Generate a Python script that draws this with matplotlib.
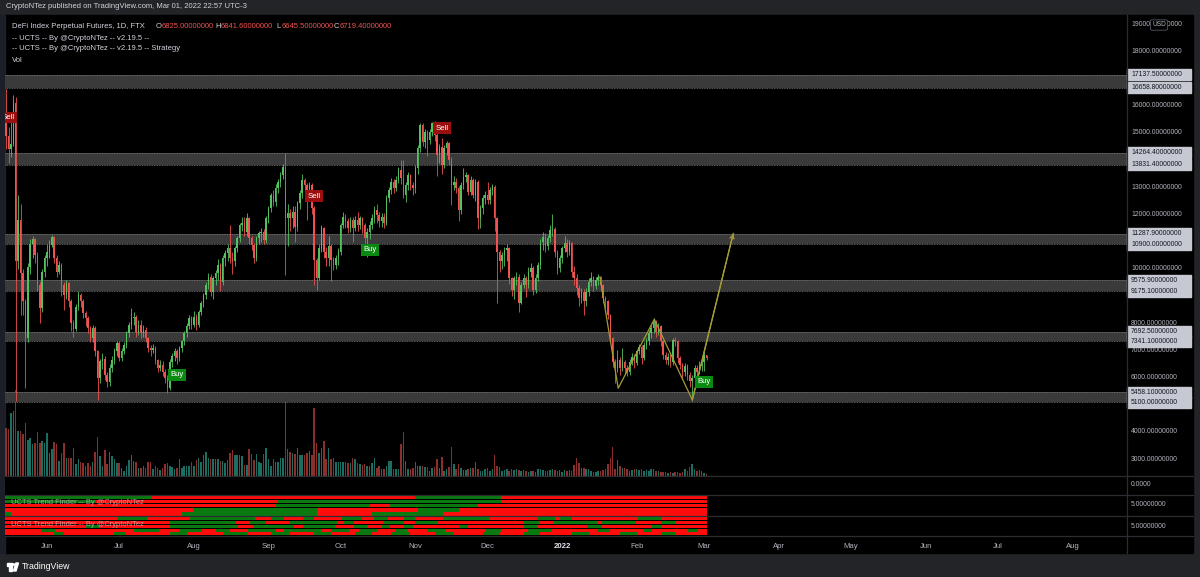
import matplotlib
matplotlib.use('Agg')
import matplotlib.pyplot as plt
import matplotlib.patches as mpatches
from matplotlib.lines import Line2D
from matplotlib.transforms import blended_transform_factory
import pandas as pd

plt.rcParams['font.family'] = ['Liberation Sans', 'DejaVu Sans']

# ---- data ----
start_date = '2021-05-15'
first_open = 15600

closes = [
    14900, 14400, 14600, 16100, 10300, 11800, 9830, 8800, 7450, 10080,
    10900, 11100, 10500, 9400, 8550, 9900, 10400, 10630, 10880, 11180,
    10390, 9900, 10140, 9400, 9040, 9470, 8800, 8000, 7800, 8610,
    9040, 8800, 8370, 8180, 7820, 7450, 7820, 6960, 5980, 6600,
    6700, 6100, 5850, 6340, 6650, 6960, 7270, 6710, 6960, 7200,
    7630, 7940, 8180, 8240, 7690, 7940, 7630, 7750, 7450, 7080,
    7020, 7080, 6650, 6340, 6470, 6220, 5980, 5610, 6590, 6780,
    6960, 6710, 7080, 7330, 7630, 7880, 8180, 7940, 8240, 7940,
    8430, 8730, 9040, 9410, 9710, 9160, 9650, 9840, 10140, 9530,
    10390, 10570, 10760, 10390, 10270, 10760, 11120, 11620, 11670, 11370,
    11860, 11120, 10880, 10390, 11120, 11310, 11370, 11060, 11860, 12220,
    12720, 12470, 12960, 13200, 13450, 13760, 11860, 12040, 11860, 12100,
    11550, 12410, 12780, 13270, 13080, 12840, 13080, 12220, 10330, 9650,
    10760, 11490, 10630, 10390, 10820, 10330, 10140, 10390, 10630, 11620,
    11920, 11740, 11490, 11800, 11490, 11800, 11610, 11860, 11610, 11120,
    11370, 11610, 11860, 12160, 11980, 11740, 11920, 11670, 12590, 12900,
    13200, 12960, 13270, 13630, 13330, 12720, 13080, 13450, 13080, 12960,
    13700, 14430, 15290, 14680, 15040, 14740, 15040, 15350, 14920, 14190,
    14490, 13820, 14430, 14610, 14000, 13080, 13200, 12960, 12160, 13080,
    13390, 13450, 12840, 13270, 12720, 13200, 11860, 12230, 12590, 12720,
    12530, 12900, 13020, 11860, 10630, 10270, 10510, 10700, 10760, 9650,
    9220, 9650, 9710, 8730, 9410, 9650, 9400, 9900, 10020, 9230,
    9650, 10140, 11000, 11180, 10820, 11120, 11430, 11470, 10630, 10020,
    10390, 10760, 10940, 10630, 10940, 9900, 9650, 9280, 8920, 9160,
    8800, 9160, 9530, 9650, 9350, 9590, 9710, 9410, 8920, 8800,
    8300, 7450, 6590, 6350, 6650, 6350, 6590, 6350, 6220, 6590,
    6770, 6530, 6960, 7140, 6710, 7200, 7330, 7630, 7820, 8040,
    7690, 7880, 7330, 6840, 6650, 6770, 6590, 7390, 7330, 6710,
    6470, 6220, 6410, 6100, 5860, 5980, 6350, 6220, 6410, 6590,
    6825, 6719.4,
]

highs = [
    16600, 15200, 15400, 16400, 16300, 12700, 12400, 10000, 8900, 10200,
    11100, 11200, 11150, 10600, 9500, 10000, 10500, 10900, 11050, 11250,
    11200, 10500, 10300, 10200, 9500, 9600, 9500, 8900, 8100, 8700,
    9200, 9100, 8900, 8450, 8250, 7900, 7950, 7900, 7000, 6700,
    6900, 6800, 6200, 6500, 6800, 7100, 7350, 7350, 7100, 7300,
    7700, 8050, 8550, 8400, 8300, 8100, 8100, 7950, 7850, 7500,
    7200, 7250, 7150, 6700, 6650, 6600, 6300, 6100, 6700, 6900,
    7100, 7050, 7150, 7400, 7700, 8000, 8300, 8250, 8450, 8350,
    8500, 8800, 9100, 9500, 9850, 9800, 9750, 9950, 10350, 10200,
    10500, 10700, 10900, 11600, 10600, 10850, 11200, 11700, 11900, 11900,
    12050, 11900, 11200, 10950, 11200, 11400, 11500, 11450, 11950, 12300,
    12800, 12900, 13100, 13300, 13550, 13850, 14250, 12400, 12200, 12300,
    12300, 12500, 12900, 13500, 13350, 13150, 13200, 13150, 12300, 10400,
    10900, 11600, 11550, 10800, 11200, 10900, 10450, 10500, 10750, 11700,
    12100, 12000, 11850, 11900, 11900, 11950, 12100, 11950, 11900, 11700,
    11500, 11750, 12000, 12300, 12400, 12100, 12050, 12050, 12700, 13000,
    13350, 13300, 13400, 13750, 14000, 14000, 13200, 13550, 13500, 13200,
    13800, 14550, 15350, 15350, 15150, 15100, 15150, 15400, 15450, 15000,
    14600, 14800, 14550, 14700, 14650, 14100, 13400, 13350, 13050, 13200,
    13700, 13550, 13500, 13400, 13350, 13300, 13250, 12350, 12700, 12850,
    13200, 13000, 13100, 13080, 11900, 10700, 10600, 10800, 10900, 10800,
    9700, 9750, 9900, 9800, 9500, 9800, 9750, 10050, 10200, 10100,
    9800, 10250, 11100, 11350, 11300, 11250, 11600, 12000, 11550, 10700,
    10500, 10850, 11200, 11100, 11050, 11000, 10100, 9800, 9400, 9300,
    9250, 9300, 9650, 9900, 9750, 9700, 9800, 9750, 9450, 9000,
    8850, 8350, 7500, 6700, 7000, 6750, 7100, 6650, 6450, 6700,
    6900, 6850, 7050, 7250, 7200, 7300, 7450, 7750, 7950, 8180,
    8100, 8000, 7950, 7400, 6950, 6900, 6850, 7450, 7500, 7400,
    6800, 6550, 6550, 6500, 6200, 6100, 6450, 6450, 6600, 6700,
    7000, 6841.6,
]

lows = [
    14400, 13900, 14100, 14500, 5150, 10000, 8300, 8300, 5600, 7300,
    9800, 10400, 10200, 9200, 8000, 8400, 9700, 10100, 10400, 10800,
    10200, 9700, 9800, 9000, 8500, 8900, 8600, 7700, 7500, 7700,
    8500, 8600, 8200, 7900, 7650, 7300, 7300, 6800, 5180, 5800,
    6300, 5900, 5650, 5700, 6200, 6500, 6800, 6600, 6600, 6850,
    7100, 7500, 7800, 7950, 7500, 7550, 7450, 7500, 7300, 6950,
    6800, 6900, 6500, 6200, 6250, 6050, 5800, 5450, 5550, 6400,
    6600, 6500, 6600, 6950, 7200, 7500, 7800, 7800, 7850, 7750,
    7850, 8300, 8600, 8900, 9250, 9000, 8900, 9400, 9600, 9200,
    9400, 10100, 10300, 10200, 9800, 10100, 10600, 11000, 11400, 11200,
    11200, 10900, 10700, 10200, 10300, 10900, 11000, 10900, 10950, 11700,
    12100, 12300, 12300, 12800, 13000, 13300, 9780, 10850, 11400, 11500,
    11000, 11400, 12200, 12600, 12850, 11800, 12600, 12000, 9410, 9230,
    9600, 10600, 10400, 10100, 10100, 9550, 9950, 10000, 10150, 10500,
    11500, 11500, 11300, 11350, 11000, 11400, 11400, 11450, 11300, 10950,
    10450, 11100, 11450, 11700, 11700, 11550, 11550, 11500, 11600, 12450,
    12750, 12800, 12850, 13150, 13100, 12600, 12450, 12900, 12900, 12700,
    12800, 13500, 14300, 14500, 14450, 14150, 14600, 14900, 14700, 13400,
    13900, 13500, 13700, 14200, 13800, 12350, 12900, 12800, 11750, 12000,
    12950, 13200, 12700, 12700, 12600, 12500, 11450, 11500, 12000, 12400,
    12400, 12400, 12700, 11400, 8740, 9900, 10000, 10100, 10300, 9450,
    9000, 8900, 9400, 8400, 8700, 9300, 8980, 9300, 9700, 9050,
    9100, 9550, 10000, 10700, 10600, 10700, 11000, 11200, 10450, 9800,
    9900, 10200, 10600, 10450, 10500, 9700, 9400, 9050, 8650, 8750,
    8300, 8650, 9000, 9350, 9200, 9250, 9400, 9200, 8750, 8550,
    8150, 7300, 6400, 5800, 6200, 6100, 6250, 6150, 6050, 6100,
    6450, 6350, 6450, 6850, 6500, 6650, 7050, 7200, 7450, 7650,
    7500, 7550, 7150, 6700, 6500, 6450, 6400, 6450, 7150, 6550,
    6300, 6000, 6050, 5900, 5650, 5150, 5800, 6050, 6150, 6250,
    6250, 6645.5,
]

volumes = [
    48, 47, 63, 65, 86, 45, 45, 42, 53, 36,
    38, 32, 33, 44, 33, 35, 33, 43, 23, 27,
    34, 32, 15, 23, 33, 18, 18, 18, 28, 12,
    17, 14, 13, 10, 13, 10, 14, 24, 39, 20,
    10, 26, 12, 24, 20, 17, 13, 13, 8, 5,
    10, 16, 21, 15, 14, 8, 8, 10, 8, 14,
    14, 7, 10, 8, 6, 8, 12, 13, 10, 9,
    7, 8, 17, 8, 10, 10, 10, 14, 10, 16,
    18, 14, 21, 24, 18, 17, 17, 17, 17, 15,
    15, 13, 16, 23, 26, 21, 21, 21, 20, 11,
    11, 27, 22, 16, 22, 14, 13, 22, 28, 17,
    10, 17, 14, 14, 18, 18, 77, 27, 24, 23,
    22, 28, 21, 21, 21, 23, 25, 21, 68, 33,
    23, 28, 35, 17, 28, 17, 18, 14, 14, 14,
    14, 14, 13, 13, 18, 17, 13, 12, 11, 12,
    10, 10, 13, 18, 8, 10, 7, 7, 10, 15,
    15, 7, 7, 7, 32, 44, 15, 7, 7, 8,
    14, 10, 10, 10, 9, 9, 5, 8, 9, 17,
    8, 19, 5, 7, 9, 29, 12, 7, 12, 8,
    6, 6, 7, 8, 8, 14, 7, 5, 5, 7,
    8, 5, 7, 21, 10, 9, 5, 6, 7, 5,
    7, 6, 7, 6, 5, 6, 5, 4, 5, 5,
    4, 7, 7, 6, 5, 5, 6, 7, 6, 5,
    6, 4, 6, 5, 6, 5, 11, 18, 13, 8,
    8, 7, 7, 5, 4, 4, 5, 5, 6, 7,
    12, 18, 29, 7, 16, 10, 8, 8, 7, 5,
    6, 7, 7, 6, 7, 5, 6, 5, 7, 7,
    5, 5, 4, 4, 4, 3, 4, 3, 4, 4,
    3, 4, 7, 5, 9, 12, 7, 5, 6, 5,
    3, 2,
]

zones = [(16658.8, 17137.5), (13831.4, 14264.4), (10900.0, 11287.9),
         (9175.1, 9575.9), (7341.1, 7692.5), (5100.0, 5458.1)]
# scale labels that are not hidden behind a zone price box
price_ticks = [3000, 4000, 6000, 7000, 8000, 9000, 10000, 12000, 13000,
               15000, 16000, 18000, 19000]

sell_idx = [1, 128, 181]
buy_idx = [71, 151, 290]

zigzag_idx = [246.7, 254.3, 269.3, 285.1, 302.1]
zigzag_price = [9700, 5610, 8145, 5180, 11300]

# UCTS trend finder rows: (colour, end day index)
tf_b = [
    [('g', 60.5), ('r', 170), ('g', 205.5), ('r', 291.4)],
    [('g', 37.5), ('r', 113), ('g', 205.5), ('r', 291.4)],
    [('r', 112), ('g', 151), ('r', 159.5), ('g', 196), ('r', 291.4)],
    [('r', 77.5), ('g', 129), ('r', 171), ('g', 188), ('r', 291.4)],
    [('g', 2), ('r', 73), ('g', 129), ('r', 152), ('g', 181.5), ('r', 291.4)],
]
tf_c = [
    [('r', 46), ('g', 58.5), ('r', 76.5), ('g', 103.5), ('r', 110), ('g', 115.5), ('r', 123.5),
     ('g', 128), ('r', 139.5), ('g', 148), ('r', 153), ('g', 158.5), ('r', 165.5), ('g', 170),
     ('r', 181.5), ('g', 200.5), ('r', 220.5), ('g', 228), ('r', 230), ('g', 235), ('r', 262.5),
     ('g', 272), ('r', 291.4)],
    [('r', 68), ('g', 95.5), ('r', 101.5), ('g', 108), ('r', 117.5), ('g', 137.5), ('r', 140.5),
     ('g', 144.5), ('r', 156.5), ('g', 165.5), ('r', 170), ('g', 179.5), ('r', 215), ('g', 221.5),
     ('r', 227.5), ('g', 245.5), ('r', 247.5), ('g', 261.5), ('r', 272), ('g', 278), ('r', 291.4)],
    [('r', 33), ('g', 38.5), ('r', 68), ('g', 96.5), ('r', 102.5), ('g', 119.5), ('r', 123.5),
     ('g', 136.5), ('r', 144.5), ('g', 150), ('r', 156), ('g', 159.5), ('r', 165.5), ('g', 169),
     ('r', 188), ('g', 192), ('r', 215), ('g', 220.5), ('r', 241.5), ('g', 247.5), ('r', 268.5),
     ('g', 272), ('r', 291.4)],
    [('r', 14.5), ('g', 20.5), ('r', 53), ('g', 63.5), ('r', 72), ('g', 81.5), ('r', 87),
     ('g', 93), ('r', 100.5), ('g', 112), ('r', 115.5), ('g', 131), ('r', 135), ('g', 142.5),
     ('r', 146.5), ('g', 154), ('r', 161.5), ('g', 166.5), ('r', 175), ('g', 182.5), ('r', 199.5),
     ('g', 205.5), ('r', 217), ('g', 226.5), ('r', 245.5), ('g', 251), ('r', 264.5), ('g', 268.5),
     ('r', 283.5), ('g', 287.5), ('r', 291.4)],
    [('r', 20), ('g', 24), ('r', 45), ('g', 50), ('r', 68), ('g', 75), ('r', 90), ('g', 100),
     ('r', 110), ('g', 118), ('r', 128), ('g', 135), ('r', 145), ('g', 152), ('r', 160),
     ('g', 168), ('r', 178), ('g', 186), ('r', 198), ('g', 205), ('r', 215), ('g', 222),
     ('r', 235), ('g', 242), ('r', 255), ('g', 262), ('r', 272), ('g', 278), ('r', 291.4)],
]

# ---- layout helpers (pixels of a 1200x577 picture) ----
W, H = 1200, 577
def rect(x0, y0, x1, y1):
    return [x0 / W, 1 - y1 / H, (x1 - x0) / W, (y1 - y0) / H]

GREEN = '#53c160'
RED = '#f0524f'
GREY_TXT = '#b2b5be'
SEP = '#2b2d33'

dates = pd.date_range(start_date, periods=len(closes), freq='D')
idx = list(range(len(closes)))
opens = [first_open] + closes[:-1]

px_per_k = 27.2  # pixels per 1000 USD
p_top = 19000 + (24 - 15) * 1000 / px_per_k
p_bot = 19000 - (476 - 24) * 1000 / px_per_k
x_left = (5 - 6.1) / 2.407
x_right = (1127 - 6.1) / 2.407

fig = plt.figure(figsize=(12, 5.77), dpi=100, facecolor='#232427')
fig.add_artist(mpatches.Rectangle((5 / W, 1 - 553 / H), 1188 / W, 538 / H,
                                  transform=fig.transFigure, color='black', zorder=-10))
fig.add_artist(mpatches.Rectangle((0, 1 - 553 / H), 5 / W, 538 / H,
                                  transform=fig.transFigure, color='#1c1f27', zorder=-10))

# volume axis (behind) and price axis
ax = fig.add_axes(rect(5, 15, 1127, 476))
ax_vol = ax.twinx()
ax.set_zorder(ax_vol.get_zorder() + 1)
ax.patch.set_visible(False)
ax_vol.patch.set_facecolor('black')
for a in (ax, ax_vol):
    for s in a.spines.values():
        s.set_visible(False)
    a.tick_params(left=False, right=False, bottom=False, top=False,
                  labelleft=False, labelright=False, labelbottom=False)
ax.set_xlim(x_left, x_right)
ax.set_ylim(p_bot, p_top)
ax_vol.set_ylim(0, 461)

vol_cols = ['#1d6e62' if c >= o else '#8a2f2c' for o, c in zip(opens, closes)]
ax_vol.bar(idx, volumes, width=0.62, color=vol_cols, linewidth=0)

# support / resistance zones
for lo, hi in zones:
    ax.axhspan(lo, hi, color='#3a3a3a', zorder=1, linewidth=0)
    for lv in (lo, hi):
        ax.axhline(lv, color='#7c7c7c', lw=0.6, ls=(0, (1, 1)), zorder=1.5)

# candles
cols = [GREEN if c >= o else RED for o, c in zip(opens, closes)]
ax.vlines(idx, lows, highs, colors=cols, lw=0.6, zorder=3)
bodies = [max(abs(c - o), 25) for o, c in zip(opens, closes)]
bottoms = [min(o, c) for o, c in zip(opens, closes)]
ax.bar(idx, bodies, bottom=bottoms, width=0.62, color=cols, linewidth=0, zorder=3)

# zigzag projection
ax.plot(zigzag_idx, zigzag_price, color='#a69c34', lw=0.9, zorder=4)
ax.annotate('', xy=(zigzag_idx[-1], zigzag_price[-1]), xytext=(zigzag_idx[-2], zigzag_price[-2]),
            arrowprops=dict(arrowstyle='->', color='#a69c34', lw=0.9, shrinkA=0, shrinkB=0,
                            mutation_scale=7), zorder=4)

# buy / sell signals
for i in sell_idx:
    ax.annotate('Sell', xy=(i, highs[i]), xytext=(0, 10), textcoords='offset pixels',
                ha='center', va='center', fontsize=5.6, color='white', zorder=6,
                bbox=dict(boxstyle='square,pad=0.3', fc='#9c0f0f', ec='none'),
                annotation_clip=False, clip_on=True)
for i in buy_idx:
    ax.annotate('Buy', xy=(i, lows[i]), xytext=(0, -11), textcoords='offset pixels',
                ha='center', va='center', fontsize=5.6, color='white', zorder=6,
                bbox=dict(boxstyle='square,pad=0.3', fc='#0b8a12', ec='none'),
                annotation_clip=False, clip_on=True)

# right price scale
blend = blended_transform_factory(fig.transFigure, ax.transData)
for p in price_ticks:
    ax.text(1131 / W, p, f'{p}.00000000', transform=blend, fontsize=4.9, color=GREY_TXT,
            va='center', ha='left', clip_on=False, zorder=7)
box_h = 11 * 1000 / px_per_k
for lo, hi in zones:
    for lv in (hi, lo):
        ax.add_patch(mpatches.Rectangle((1127 / W, lv - box_h / 2), 64 / W, box_h,
                                        transform=blend, color='#c6c9d1', clip_on=False,
                                        zorder=8))
        ax.text(1131 / W, lv, f'{lv:.8f}', transform=blend, fontsize=4.9, color='#131722',
                va='center', ha='left', clip_on=False, zorder=9)
fig.text(1159 / W, 1 - 25 / H, 'USD', fontsize=4.8, color=GREY_TXT, ha='center', va='center',
         bbox=dict(boxstyle='round,pad=0.25', fc='black', ec='#555a66', lw=0.6))

# lower panes (trend finder), y in pixels below 476
ax_low = fig.add_axes(rect(5, 476, 1127, 536))
ax_low.set_facecolor('black')
ax_low.set_xlim(x_left, x_right)
ax_low.set_ylim(60, 0)
for s in ax_low.spines.values():
    s.set_visible(False)
ax_low.tick_params(left=False, bottom=False, labelleft=False, labelbottom=False)

colmap = {'r': '#ff0c0c', 'g': '#0a7a10'}
row_y = [21.4, 25.6, 29.8, 34.0, 38.0, 42.3, 46.3, 50.3, 54.3, 57.8]
for row, yc in zip(tf_b + tf_c, row_y):
    s0 = -0.4
    for c, e in row:
        ax_low.broken_barh([(s0, e - s0)], (yc - 1.6, 3.2), facecolors=colmap[c], linewidth=0)
        s0 = e
for yl in (26, 49):
    ax_low.text(2.0, yl, 'UCTS Trend Finder -- By @CryptoNTez', fontsize=5.4, color='#c8c8c8',
                alpha=0.75, va='center', ha='left', zorder=5)

# month labels
months = pd.date_range('2021-06-01', '2022-08-01', freq='MS')
for m in months:
    pos = (m - dates[0]).days
    lab = '2022' if m.month == 1 else m.strftime('%b')
    ax_low.text(pos, 70, lab, fontsize=5.6, color='#e0e3eb' if lab == '2022' else GREY_TXT,
                fontweight='bold' if lab == '2022' else 'normal',
                ha='center', va='center', clip_on=False)

# pane separators
for yy in (476, 495, 516, 536):
    fig.add_artist(Line2D([5 / W, 1193 / W], [1 - yy / H] * 2, color=SEP, lw=0.9))
fig.add_artist(Line2D([1127 / W] * 2, [1 - 15 / H, 1 - 553 / H], color=SEP, lw=0.9))
for yy, lab in ((485, '0.0000'), (505, '5.00000000'), (526, '5.00000000')):
    fig.text(1131 / W, 1 - yy / H, lab, fontsize=4.9, color=GREY_TXT, va='center')

# legend texts
fig.text(6 / W, 1 - 7 / H, 'CryptoNTez published on TradingView.com, Mar 01, 2022 22:57 UTC-3',
         fontsize=5.5, color='#d1d4dc', va='center')
fig.text(12 / W, 1 - 26 / H, 'DeFi Index Perpetual Futures, 1D, FTX', fontsize=5.5,
         color='#d1d4dc', va='center')
for x0, k, v in ((156, 'O', '6825.00000000'), (215, 'H', '6841.60000000'),
                 (276, 'L', '6645.50000000'), (334, 'C', '6719.40000000')):
    fig.text(x0 / W, 1 - 26 / H, k, fontsize=5.5, color='#d1d4dc', va='center')
    fig.text((x0 + 5.5) / W, 1 - 26 / H, v, fontsize=5.5, color='#ef5350', va='center')
fig.text(12 / W, 1 - 38 / H, '-- UCTS -- By @CryptoNTez -- v2.19.5 --', fontsize=5.5,
         color='#d1d4dc', va='center')
fig.text(12 / W, 1 - 49 / H, '-- UCTS -- By @CryptoNTez -- v2.19.5 -- Strategy', fontsize=5.5,
         color='#d1d4dc', va='center')
fig.text(12 / W, 1 - 60 / H, 'Vol', fontsize=5.5, color='#d1d4dc', va='center')

# TradingView footer
fig.add_artist(mpatches.Rectangle((7 / W, 1 - 566 / H), 5 / W, 3 / H, transform=fig.transFigure,
                                  color='white'))
fig.add_artist(mpatches.Rectangle((9 / W, 1 - 571 / H), 2.5 / W, 6 / H, transform=fig.transFigure,
                                  color='white'))
fig.add_artist(mpatches.Circle((13.5 / W, 1 - 564.5 / H), 1.3 / W, transform=fig.transFigure,
                               color='white'))
fig.add_artist(mpatches.Polygon([(13.5 / W, 1 - 571 / H), (16 / W, 1 - 563 / H),
                                 (18.5 / W, 1 - 563 / H), (16 / W, 1 - 571 / H)],
                                transform=fig.transFigure, color='white'))
fig.text(22 / W, 1 - 566.5 / H, 'TradingView', fontsize=6.3, color='white', va='center')

fig.savefig('out.png', dpi=100, facecolor=fig.get_facecolor())
